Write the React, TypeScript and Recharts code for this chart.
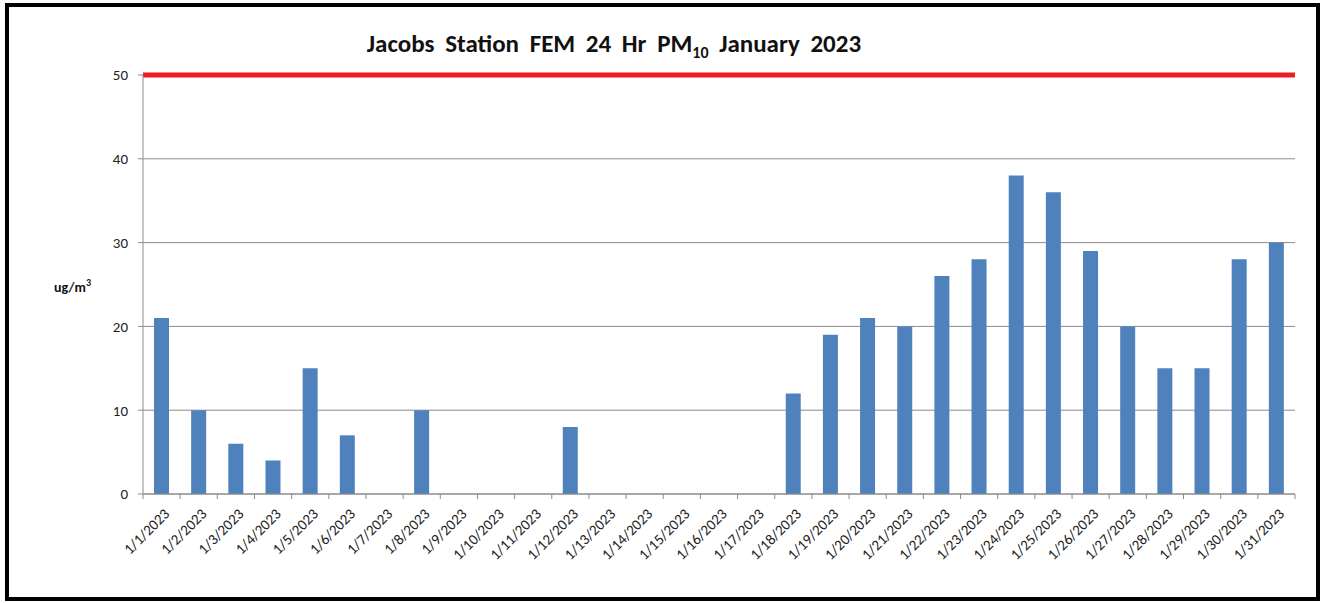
import React from 'react';
import { BarChart, Bar, XAxis, YAxis, CartesianGrid, ReferenceLine } from 'recharts';

const categories = [
  '1/1/2023','1/2/2023','1/3/2023','1/4/2023','1/5/2023','1/6/2023','1/7/2023','1/8/2023','1/9/2023','1/10/2023',
  '1/11/2023','1/12/2023','1/13/2023','1/14/2023','1/15/2023','1/16/2023','1/17/2023','1/18/2023','1/19/2023','1/20/2023',
  '1/21/2023','1/22/2023','1/23/2023','1/24/2023','1/25/2023','1/26/2023','1/27/2023','1/28/2023','1/29/2023','1/30/2023','1/31/2023',
];
const pm10Values: (number | null)[] = [
  21, 10, 6, 4, 15, 7, null, 10, null, null,
  null, 8, null, null, null, null, null, 12, 19, 21,
  20, 26, 28, 38, 36, 29, 20, 15, 15, 28, 30,
];
const yTicks = [0, 10, 20, 30, 40, 50];
const standardLimit = 50;

const data = categories.map((date, i) => ({ date, pm10: pm10Values[i] }));

const FONT = 'Calibri, Carlito, "Open Sans", "Liberation Sans", sans-serif';
const CHART_W = 1322;
const M_LEFT = 143;
const M_RIGHT = 27;
const BAND = (CHART_W - M_LEFT - M_RIGHT) / categories.length;

const XTick = (props: any) => {
  const { x, y, payload, index } = props;
  const isLast = index === categories.length - 1;
  return (
    <g>
      <line x1={x - BAND / 2} x2={x - BAND / 2} y1={y - 8} y2={y - 3} stroke="#8c8c8c" />
      {isLast && <line x1={x + BAND / 2} x2={x + BAND / 2} y1={y - 8} y2={y - 3} stroke="#8c8c8c" />}
      <g transform={`translate(${x + 6},${y + 10})`}>
        <text x={0} y={0} dy={4} textAnchor="end" transform="rotate(-45)" fill="#222" fontSize={15} fontFamily={FONT}>
          {payload.value}
        </text>
      </g>
    </g>
  );
};

export default function App() {
  return (
    <div style={{ position: 'absolute', left: 0, top: 0, width: 1322, height: 603, background: '#fff' }}>
      <div style={{ position: 'absolute', left: 5, top: 3, width: 1307, height: 590, border: '4px solid #000', boxSizing: 'content-box' }} />
      <div style={{ position: 'absolute', left: 0, top: 28, width: 1228, textAlign: 'center', fontFamily: FONT, fontWeight: 'bold', fontSize: 25, wordSpacing: 5, color: '#111' }}>
        Jacobs Station FEM 24 Hr PM<sub style={{ fontSize: 16 }}>10</sub> January 2023
      </div>
      <div style={{ position: 'absolute', left: 54, top: 276, fontFamily: FONT, fontWeight: 'bold', fontSize: 14, color: '#111' }}>
        ug/m<sup style={{ fontSize: 10 }}>3</sup>
      </div>
      <div style={{ position: 'absolute', left: 0, top: 0 }}>
        <BarChart width={CHART_W} height={603} data={data} margin={{ top: 75, right: M_RIGHT, left: 0, bottom: 0 }} barCategoryGap="30%">
          <CartesianGrid vertical={false} stroke="#8c8c8c" strokeWidth={1} />
          <XAxis dataKey="date" interval={0} height={109} tick={<XTick />} axisLine={{ stroke: '#8c8c8c' }} tickLine={false} />
          <YAxis domain={[0, 50]} ticks={yTicks} width={M_LEFT} axisLine={{ stroke: '#8c8c8c' }} tickLine={{ stroke: '#8c8c8c' }} tickSize={5}
            tick={{ fill: '#222', fontSize: 15, fontFamily: FONT, dx: -8 }} />
          <Bar dataKey="pm10" fill="#4f81bd" isAnimationActive={false} barSize={15} />
          <ReferenceLine y={standardLimit} stroke="#ee1c25" strokeWidth={5} ifOverflow="extendDomain" />
        </BarChart>
      </div>
    </div>
  );
}
